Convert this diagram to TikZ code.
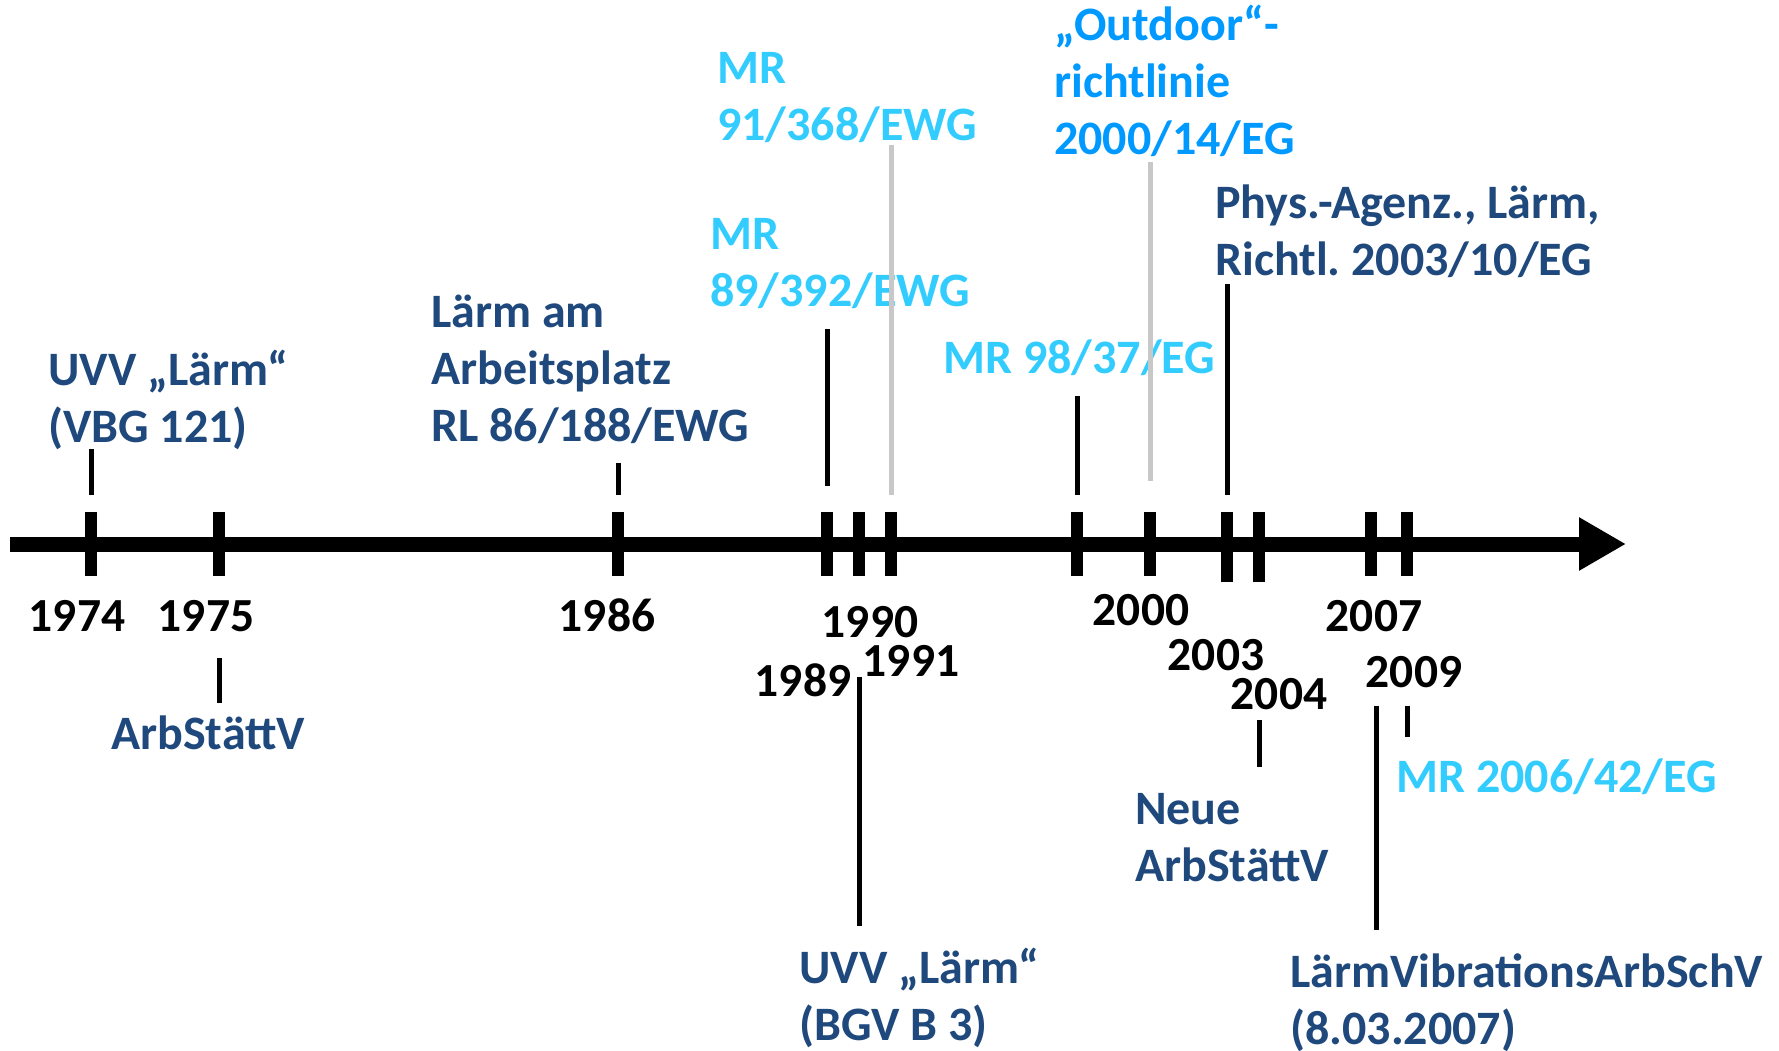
\documentclass[tikz,border=0pt]{standalone}
\usepackage{fontspec}
\setmainfont{Carlito}
\usetikzlibrary{arrows.meta}
\definecolor{dkblue}{RGB}{31,73,125}
\definecolor{ltblue}{RGB}{51,204,255}
\definecolor{midblue}{RGB}{0,153,255}
\definecolor{lgray}{RGB}{200,200,200}
\begin{document}
\frenchspacing
\begin{tikzpicture}[x=1pt,y=-1pt,
  lbl/.style={font=\fontsize{48}{57}\selectfont\bfseries, anchor=base west, inner sep=0pt, align=left, text=dkblue},
  lbllt/.style={lbl, text=ltblue},
  lblmid/.style={lbl, text=midblue},
  yr/.style={font=\fontsize{47.5}{57}\selectfont\bfseries, anchor=base, inner sep=0pt, text=black},
  tickmark/.style={line width=12pt},
  conn/.style={line width=5pt},
  gconn/.style={line width=5pt, draw=lgray}]
\useasboundingbox (0,0) rectangle (1779,1051);

% axis
\coordinate (axL) at (10,544);
\coordinate (axR) at (1626,544);
\draw[line width=15pt, -{Triangle[length=47pt,width=50pt]}] (axL) -- (axR);

% ticks
\foreach \n/\x/\b in {t74/91/576, t75/219/576, t86/618/576, t89/827/576, t90/859/576, t91/891/576, t98/1077/576, t00/1150/576, t03/1227/582, t04/1259/582, t07/1371/576, t09/1407/576}{
  \coordinate (\n a) at (\x,512);
  \coordinate (\n b) at (\x,\b);
  \draw[tickmark] (\n a) -- (\n b);
}

% year labels
\node[yr] (y74) at (77,631) {1974};
\node[yr] (y75) at (206,631) {1975};
\node[yr] (y86) at (607,631) {1986};
\node[yr] (y90) at (870,637) {1990};
\node[yr] (y89) at (803,696) {1989};
\node[yr] (y91) at (911,676) {1991};
\node[yr] (y00) at (1141,625) {2000};
\node[yr] (y03) at (1216,670) {2003};
\node[yr] (y04) at (1279,709) {2004};
\node[yr] (y07) at (1374,631) {2007};
\node[yr] (y09) at (1414,687) {2009};

% event labels (anchor = baseline of last line)
\node[lbl] (l74) at (48,442) {UVV „Lärm“\\(VBG 121)};
\node[lbl] (l75) at (111,749) {ArbStättV};
\node[lbl] (l86) at (431,441) {Lärm am\\Arbeitsplatz\\RL 86/188/EWG};
\node[lbllt] (l89) at (710,306) {MR\\89/392/EWG};
\node[lbllt] (l91) at (717,141) {MR\\91/368/EWG};
\node[lbllt] (l98) at (943,373) {MR 98/37/EG};
\node[lblmid] (l00) at (1054,155) {„Outdoor“-\\richtlinie\\2000/14/EG};
\node[lbl] (l03) at (1215,275) {Phys.-Agenz., Lärm,\\Richtl. 2003/10/EG};
\node[lbl] (l90) at (799,1040) {UVV „Lärm“\\(BGV B 3)};
\node[lbl] (l04) at (1135,881) {Neue\\ArbStättV};
\node[lbllt] (l09) at (1396,792) {MR 2006/42/EG};
\node[lbl] (l07) at (1290,1044) {LärmVibrationsArbSchV\\(8.03.2007)};

% connectors
\coordinate (c74t) at (91,449);  \coordinate (c74b) at (91,495);
\coordinate (c75t) at (219,658); \coordinate (c75b) at (219,703);
\coordinate (c86t) at (618,463); \coordinate (c86b) at (618,495);
\coordinate (c89t) at (827,329); \coordinate (c89b) at (827,486);
\coordinate (c91t) at (891,145); \coordinate (c91b) at (891,495);
\coordinate (c98t) at (1077,396); \coordinate (c98b) at (1077,495);
\coordinate (c00t) at (1150,162); \coordinate (c00b) at (1150,481);
\coordinate (c03t) at (1227,284); \coordinate (c03b) at (1227,495);
\coordinate (c90t) at (859,677); \coordinate (c90b) at (859,926);
\coordinate (c04t) at (1259,720); \coordinate (c04b) at (1259,767);
\coordinate (c09t) at (1407,706); \coordinate (c09b) at (1407,737);
\coordinate (c07t) at (1376,706); \coordinate (c07b) at (1376,930);

\draw[conn] (c74t) -- (c74b);
\draw[conn] (c75t) -- (c75b);
\draw[conn] (c86t) -- (c86b);
\draw[conn] (c89t) -- (c89b);
\draw[gconn] (c91t) -- (c91b);
\draw[conn] (c98t) -- (c98b);
\draw[gconn] (c00t) -- (c00b);
\draw[conn] (c03t) -- (c03b);
\draw[conn] (c90t) -- (c90b);
\draw[conn] (c04t) -- (c04b);
\draw[conn] (c09t) -- (c09b);
\draw[conn] (c07t) -- (c07b);
\end{tikzpicture}
\end{document}
